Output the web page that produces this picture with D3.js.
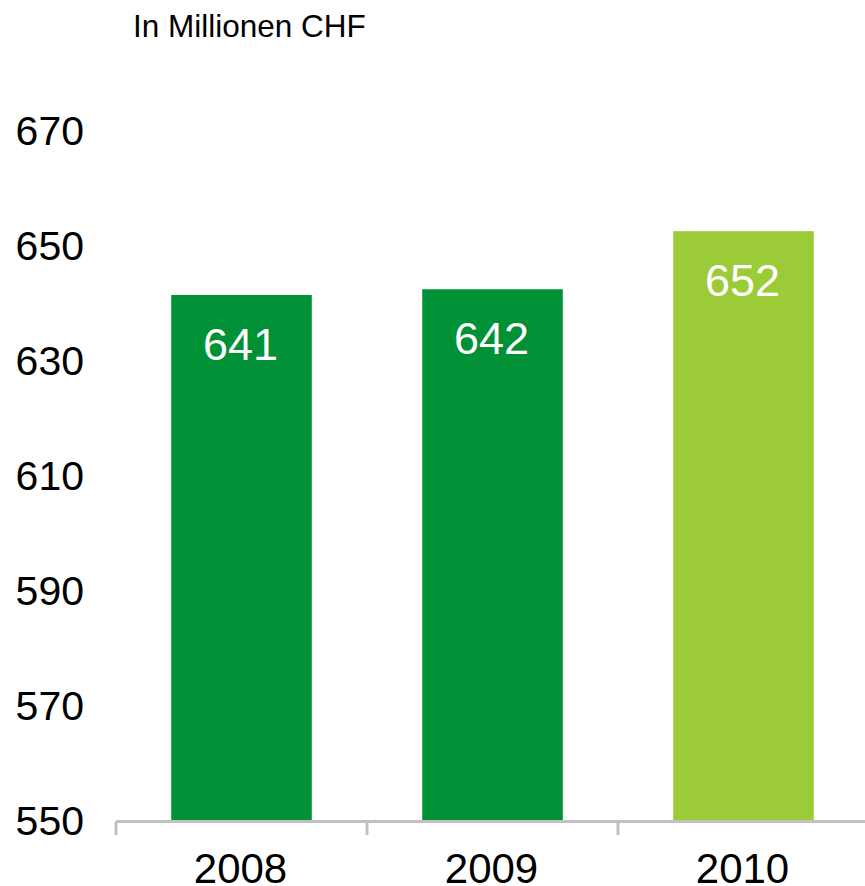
<!DOCTYPE html>
<html>
<head>
<meta charset="utf-8">
<script src="https://cdn.jsdelivr.net/npm/d3@7"></script>
<style>
  html, body { margin: 0; padding: 0; background: #fff; }
  svg { display: block; font-family: "Liberation Sans", Arial, sans-serif; }
</style>
</head>
<body>
<svg id="chart" width="865" height="886"></svg>
<script>
const categories = ["2008", "2009", "2010"];
const values = [641.3, 642.3, 652.4];
const barColors = ["#009036", "#009036", "#9BCB37"];
const yTicks = [550, 570, 590, 610, 630, 650, 670];
const unitLabel = "In Millionen CHF";

const svg = d3.select("#chart");

const x = d3.scaleBand()
  .domain(categories)
  .range([116, 869])
  .paddingInner(0.44)
  .paddingOuter(0.22);

const y = d3.scaleLinear()
  .domain([550, 670])
  .range([820, 130]);

// unit label
svg.append("text")
  .attr("x", 133)
  .attr("y", 37)
  .attr("font-size", 31.5)
  .attr("fill", "#000")
  .text(unitLabel);

// y axis (labels only)
const yAxis = svg.append("g")
  .attr("transform", "translate(84,0)")
  .call(d3.axisLeft(y).tickValues(yTicks).tickSize(0).tickPadding(0).tickFormat(d3.format("d")));
yAxis.select(".domain").remove();
yAxis.selectAll("text")
  .attr("font-size", 41)
  .attr("font-family", "'Liberation Sans', Arial, sans-serif")
  .attr("fill", "#000")
  .attr("dy", "0.35em");

// bars
svg.append("g").selectAll("rect")
  .data(categories)
  .join("rect")
  .attr("x", d => x(d))
  .attr("width", x.bandwidth())
  .attr("y", (d, i) => y(values[i]))
  .attr("height", (d, i) => y(550) - y(values[i]))
  .attr("fill", (d, i) => barColors[i]);

// value labels
svg.append("g").selectAll("text")
  .data(categories)
  .join("text")
  .attr("x", d => x(d) + x.bandwidth() / 2 - 1)
  .attr("y", (d, i) => y(values[i]) + 65)
  .attr("text-anchor", "middle")
  .attr("font-size", 45)
  .attr("fill", "#fff")
  .text((d, i) => d3.format(".0f")(values[i]));

// x axis line
const axisY = 821.5;
const xr = x.range();
svg.append("line")
  .attr("x1", xr[0]).attr("x2", xr[1])
  .attr("y1", axisY).attr("y2", axisY)
  .attr("stroke", "#C0C0C0")
  .attr("stroke-width", 3);

// x tick marks at band boundaries
const boundaries = categories.map(d => x(d) - x.step() * x.paddingInner() / 2);
boundaries.push(xr[1]);
svg.append("g").selectAll("line")
  .data(boundaries)
  .join("line")
  .attr("x1", d => d).attr("x2", d => d)
  .attr("y1", axisY).attr("y2", 835)
  .attr("stroke", "#C0C0C0")
  .attr("stroke-width", 3);

// x labels
svg.append("g").selectAll("text")
  .data(categories)
  .join("text")
  .attr("x", d => x(d) + x.bandwidth() / 2 - 1)
  .attr("y", 883)
  .attr("text-anchor", "middle")
  .attr("font-size", 42)
  .attr("fill", "#000")
  .text(d => d);
</script>
</body>
</html>
